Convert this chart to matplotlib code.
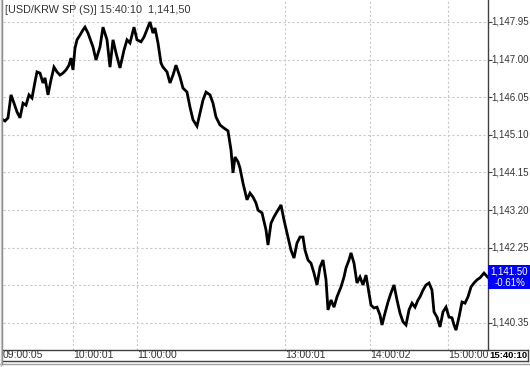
import matplotlib
matplotlib.use("Agg")
import matplotlib.pyplot as plt
from matplotlib.patches import Rectangle
from matplotlib.lines import Line2D

# ---- data ----
title_text = "[USD/KRW SP (S)] 15:40:10  1,141,50"
time_labels = ["09:00:05", "10:00:01", "11:00:00", "13:00:01", "14:00:02", "15:00:00"]
time_label_pos = [0, 70, 134, 282, 367, 445]
last_time = "15:40:10"
last_price_label = "1,141.50"
last_change_label = "-0.61%"
last_price = 1141.50
price_ticks = [1147.95, 1147.00, 1146.05, 1145.10, 1144.15, 1143.20, 1142.25, 1141.30, 1140.35]
price_tick_labels = ["1,147.95", "1,147.00", "1,146.05", "1,145.10", "1,144.15",
                     "1,143.20", "1,142.25", "", "1,140.35"]

tick_index = [0, 2, 5, 8, 11, 14, 17, 20, 23, 26, 29, 32, 34, 37, 40, 42, 45, 48, 51, 54,
              57, 60, 63, 66, 68, 70, 72, 74, 77, 80, 82, 85, 90, 93, 97, 100, 104, 107,
              110, 113, 117, 121, 124, 127, 131, 134, 138, 141, 145, 147, 150, 152, 155,
              158, 160, 164, 167, 170, 173, 177, 180, 184, 187, 190, 194, 197, 200, 203,
              207, 210, 213, 217, 221, 225, 228, 230, 232, 235, 237, 240, 244, 247, 250,
              253, 255, 259, 263, 265, 268, 271, 275, 278, 281, 285, 288, 291, 294, 297,
              300, 302, 305, 308, 311, 314, 317, 320, 323, 325, 328, 331, 334, 338, 341,
              343, 346, 348, 351, 354, 357, 360, 363, 366, 368, 371, 374, 377, 379, 382,
              385, 388, 391, 394, 397, 400, 403, 406, 409, 412, 415, 417, 420, 423, 426,
              429, 431, 434, 437, 440, 443, 446, 449, 451, 453, 456, 459, 462, 465, 468,
              471, 474, 477, 481, 485]
price = [1145.48, 1145.45, 1145.53, 1146.11, 1145.90, 1145.68, 1145.53, 1145.90, 1145.85,
         1146.11, 1146.03, 1146.44, 1146.69, 1146.66, 1146.41, 1146.54, 1146.11, 1146.49,
         1146.81, 1146.69, 1146.61, 1146.66, 1146.74, 1146.86, 1147.04, 1146.74, 1147.29,
         1147.50, 1147.62, 1147.75, 1147.82, 1147.67, 1147.32, 1146.99, 1147.32, 1147.82,
         1147.50, 1146.81, 1147.50, 1147.17, 1146.79, 1147.24, 1147.50, 1147.42, 1147.82,
         1147.50, 1147.45, 1147.57, 1147.82, 1147.95, 1147.67, 1147.80, 1147.42, 1146.91,
         1146.81, 1146.69, 1146.41, 1146.61, 1146.86, 1146.56, 1146.28, 1146.18, 1145.80,
         1145.48, 1145.32, 1145.65, 1145.98, 1146.18, 1146.11, 1145.90, 1145.55, 1145.35,
         1145.27, 1145.20, 1144.72, 1144.14, 1144.54, 1144.42, 1144.26, 1143.88, 1143.46,
         1143.63, 1143.53, 1143.38, 1143.20, 1143.13, 1142.70, 1142.32, 1142.87, 1143.03,
         1143.20, 1143.33, 1142.95, 1142.52, 1142.19, 1141.99, 1142.37, 1142.52, 1142.52,
         1142.19, 1141.94, 1141.86, 1141.61, 1141.31, 1141.76, 1141.94, 1141.44, 1140.68,
         1140.93, 1140.75, 1141.01, 1141.26, 1141.51, 1141.74, 1141.94, 1142.12, 1141.86,
         1141.36, 1141.51, 1141.31, 1141.56, 1141.11, 1140.80, 1140.73, 1140.75, 1140.55,
         1140.30, 1140.60, 1140.88, 1141.11, 1141.31, 1140.93, 1140.60, 1140.38, 1140.30,
         1140.68, 1140.85, 1140.75, 1140.93, 1141.01, 1141.18, 1141.31, 1141.36, 1141.18,
         1140.63, 1140.50, 1140.25, 1140.63, 1140.75, 1140.50, 1140.48, 1140.30, 1140.17,
         1140.50, 1140.88, 1140.85, 1141.01, 1141.26, 1141.36, 1141.44, 1141.49, 1141.61,
         1141.50]

# ---- figure ----
W, H = 530, 367
fig = plt.figure(figsize=(W / 100, H / 100), dpi=100)
fig.patch.set_facecolor("white")
plt.rcParams["font.family"] = ["Liberation Sans", "DejaVu Sans"]

px_left, px_right, px_top, px_bottom = 3, 488, 0, 350
ax = fig.add_axes([px_left / W, (H - px_bottom) / H,
                   (px_right - px_left) / W, (px_bottom - px_top) / H])
x_min, x_max = 0, 485
per_px = 0.02525
ax.set_xlim(x_min, x_max)
ax.set_ylim(1147.95 - (px_bottom - 22) * per_px, 1147.95 + 22 * per_px)

for s in ["top", "left", "bottom"]:
    ax.spines[s].set_visible(False)
ax.spines["right"].set_color("#404040")
ax.spines["right"].set_linewidth(1.0)

ax.set_yticks(price_ticks)
ax.set_yticklabels([])
ax.tick_params(axis="y", which="both", right=True, left=False, direction="out",
               length=3, color="#404040", labelright=False, labelleft=False)
ax.set_xticks(time_label_pos)
ax.set_xticklabels([])
ax.tick_params(axis="x", length=0)
ax.grid(True, color="#c8c8c8", linestyle=(0, (2, 2)), linewidth=0.8)
ax.get_xgridlines()[0].set_visible(False)

ax.plot(tick_index, price, color="black", linewidth=2.0, solid_joinstyle="miter")

# y labels on right
for val, lab in zip(price_ticks, price_tick_labels):
    if lab:
        ax.text(x_max + 3.5, val, lab, transform=ax.transData, ha="left", va="center",
                fontsize=7.0, color="#333333", clip_on=False)

# title
fig.text(5 / W, 1 - 10 / H, title_text, ha="left", va="center", fontsize=7.8, color="#333333")

# last price box
box_top, box_bot = 265, 289
fig.patches.append(Rectangle((px_right / W, 1 - box_bot / H), (W - px_right) / W,
                             (box_bot - box_top) / H, transform=fig.transFigure,
                             facecolor="#0000ff", edgecolor="none", zorder=5))
fig.text(490 / W, 1 - 271 / H, last_price_label, ha="left", va="center",
         fontsize=7.0, color="white", zorder=6)
fig.text(495 / W, 1 - 283 / H, last_change_label, ha="left", va="center",
         fontsize=7.0, color="white", zorder=6)

# bottom time box
def hline(y, x0, x1, c="#404040", lw=1.0):
    fig.add_artist(Line2D([x0 / W, x1 / W], [1 - y / H, 1 - y / H], color=c, lw=lw,
                          transform=fig.transFigure))

def vline(x, y0, y1, c="#404040", lw=1.0):
    fig.add_artist(Line2D([x / W, x / W], [1 - y0 / H, 1 - y1 / H], color=c, lw=lw,
                          transform=fig.transFigure))

hline(350, 2, 528)
hline(361, 2, 528)
hline(364, 0, 530, c="#a0a0a0")
vline(2, 0, 364, c="#808080")
vline(528, 350, 361)
vline(0.5, 0, 367, c="#c0c0c0")

for pos, lab in zip(time_label_pos, time_labels):
    xpix = px_left + (pos - x_min) / (x_max - x_min) * (px_right - px_left)
    fig.text(xpix / W, 1 - 355.5 / H, lab, ha="left", va="center", fontsize=7.5,
             color="#333333")
fig.text(489.5 / W, 1 - 355.5 / H, last_time, ha="left", va="center", fontsize=6.8,
         color="black", fontweight="bold")

fig.savefig("out.png", dpi=100)
